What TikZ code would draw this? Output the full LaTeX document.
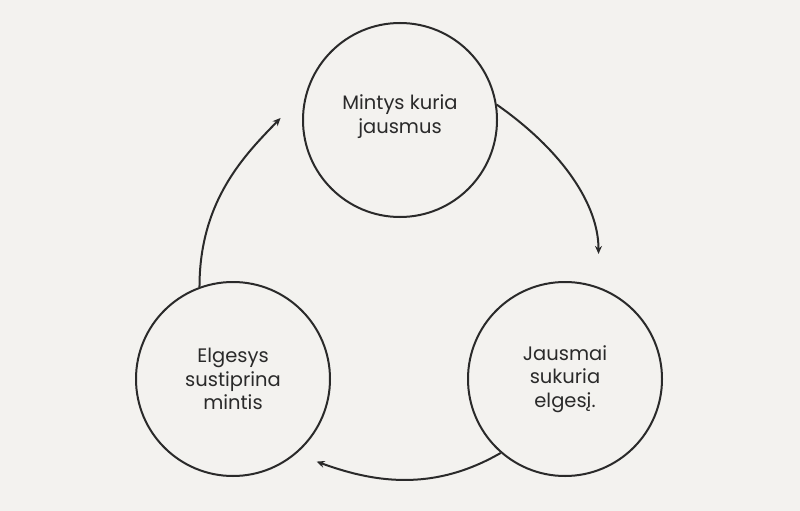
\documentclass[tikz,border=0pt]{standalone}
\usepackage{fontspec}
\setmainfont{Poppins}
\usepackage{xcolor}
\usetikzlibrary{arrows.meta,positioning}

\definecolor{paper}{HTML}{F3F2EF}
\definecolor{ink}{HTML}{2A2A2A}

\begin{document}
\begin{tikzpicture}[x=1pt, y=-1pt,
    stage/.style={circle, draw=ink, line width=2pt, minimum size=194pt, align=center, font=\fontsize{19.5}{23.5}\selectfont, text=ink},
    arrow/.style={-{Stealth[length=8pt, width=7pt]}, draw=ink, line width=2pt}
]

% Background
\fill[paper] (0,0) rectangle (800,511);
\useasboundingbox (0,0) rectangle (800,511);

% Stages
\node[stage] (mintys) at (400,120) {Mintys kuria\\jausmus\\[-12pt]\mbox{}};
\node[stage] (jausmai) at (565,379) {Jausmai\\sukuria\\elgesį.};
\node[stage] (elgesys) at (233,379) {Elgesys\\sustiprina\\mintis};

% Cycle
\draw[arrow, shorten >=33pt] (mintys.9) to[out=-35, in=90] (jausmai.70);
\draw[arrow, shorten >=22pt] (jausmai.229) to[out=-150, in=-20] (elgesys.-50);
\draw[arrow, shorten >=37pt] (elgesys.110) to[out=90, in=-134] (mintys.163);

\end{tikzpicture}
\end{document}
